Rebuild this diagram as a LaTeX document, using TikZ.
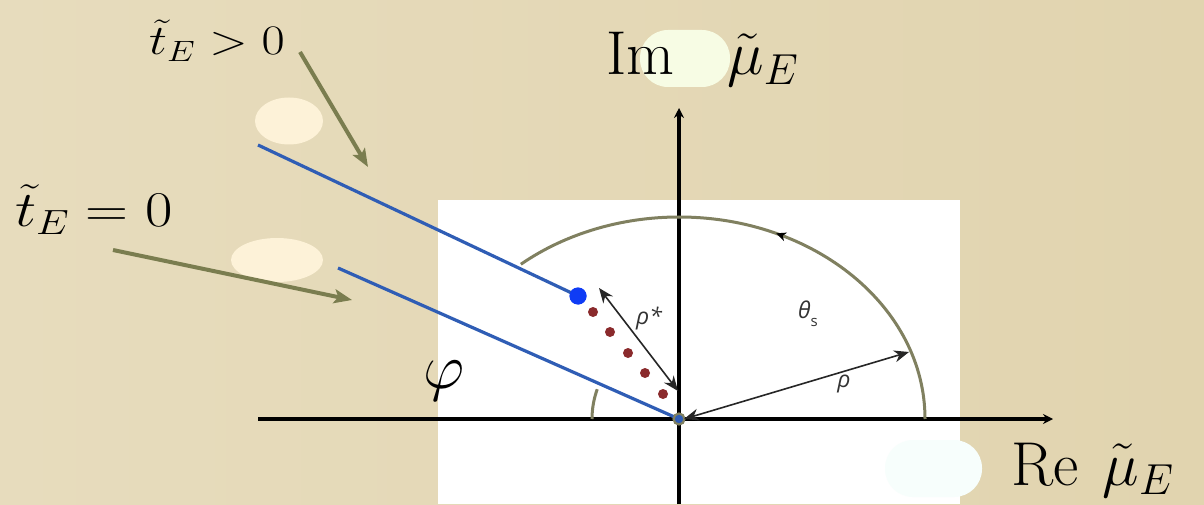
\RequirePackage{fix-cm}
\documentclass[tikz,border=0pt]{standalone}
\usepackage{fontspec}
\newfontfamily\labelfont{Open Sans}
\usetikzlibrary{arrows.meta,decorations.markings}
\definecolor{beigeL}{HTML}{E7DCBD}
\definecolor{beigeR}{HTML}{E1D4AF}
\definecolor{olivearrow}{HTML}{7A7D4F}
\definecolor{arccol}{HTML}{808060}
\definecolor{bluel}{HTML}{2F5DB5}
\definecolor{dotblue}{HTML}{0F3CF5}
\definecolor{dotred}{HTML}{8A2A2C}
\definecolor{blobIm}{HTML}{F7FCE4}
\definecolor{blobRe}{HTML}{F7FEFC}
\definecolor{blobcream}{HTML}{FDF2D8}
\definecolor{labgray}{HTML}{333333}
\tikzset{
  axis/.style={line width=4pt,-{Stealth[length=10pt,width=10pt]}},
  arcline/.style={draw=arccol,line width=3pt},
  blueline/.style={draw=bluel,line width=3.2pt},
  oarrow/.style={draw=olivearrow,line width=4pt,-{Stealth[length=18pt,width=14pt,inset=4pt]}},
  dim/.style={draw=black!85,line width=1.6pt,{Stealth[length=15pt,width=12pt]}-{Stealth[length=15pt,width=12pt]}},
  reddot/.style={circle,fill=dotred,inner sep=0pt,minimum size=10pt},
  bigmath/.style={inner sep=0pt,font=\fontsize{62}{62}\selectfont},
  smalllab/.style={inner sep=0pt,text=labgray,font=\labelfont\itshape\fontsize{23}{23}\selectfont},
}
\begin{document}
\begin{tikzpicture}[x=1pt,y=1pt]
\useasboundingbox (0,0) rectangle (1204,504);
\shade[left color=beigeL,right color=beigeR] (0,0) rectangle (1204,504);
\fill[white] (438,0) rectangle (960,304);
% highlight blobs
\fill[blobIm,rounded corners=28pt] (640,417) rectangle (730,474);
\fill[blobRe,rounded corners=28pt] (885,7) rectangle (982,64);
\fill[blobcream] (289,383) ellipse[x radius=34,y radius=23.5];
\fill[blobcream] (277,244) ellipse[x radius=46,y radius=22];
% axes
\coordinate (O) at (679,85);
\coordinate (xs) at (258,85);
\coordinate (xe) at (1053,85);
\coordinate (ys) at (679,0);
\coordinate (ye) at (679,396);
\draw[axis] (xs) -- (xe);
\draw[axis] (ys) -- (ye);
% big arc
\draw[arcline,postaction={decorate},decoration={markings,mark=at position 0.48 with {\fill[black] (4pt,0) -- (-6pt,4.5pt) -- (-3pt,0) -- (-6pt,-4.5pt) -- cycle;}}]
  (925,85) arc[start angle=0,end angle=130,x radius=246,y radius=202];
% phi arc
\draw[arcline] (O) ++(180:87) arc[start angle=180,end angle=160,radius=87];
% blue lines
\node[circle,fill=dotblue,inner sep=0pt,minimum size=17pt] (bd) at (578,208) {};
\coordinate (u0) at (258,359);
\coordinate (l0) at (338,236);
\draw[blueline] (u0) -- (bd.center);
\node[circle,fill=dotblue,inner sep=0pt,minimum size=17pt] at (578,208) {};
\draw[blueline] (l0) -- (O);
% red dots
\node[reddot] (r1) at (593,192) {};
\node[reddot] (r2) at (610,172) {};
\node[reddot] (r3) at (628,151) {};
\node[reddot] (r4) at (645,131) {};
\node[reddot] (r5) at (663,110) {};
% origin
\node[circle,draw=arccol,line width=2.2pt,fill=bluel,inner sep=0pt,minimum size=11pt] (Od) at (O) {};
% rho* and rho arrows
\coordinate (ps1) at (599,216);
\coordinate (ps2) at (678,113);
\draw[dim] (ps1) -- (ps2);
\coordinate (r0) at (684,85);
\coordinate (rE) at (909,152);
\draw[dim] (r0) -- (rE);
\node[smalllab] (lrs) at (649,186) {ρ*};
\node[smalllab] (lr) at (844,120) {ρ};
\node[smalllab] (lth) at (808,190) {θ\raisebox{-8pt}{\fontsize{15}{15}\selectfont\upshape s}};
% phi label
\node[inner sep=0pt,font=\fontsize{64}{64}\selectfont] (phi) at (444,123) {$\varphi$};
% axis labels
\node[bigmath,anchor=base west] (im) at (606,429) {$\mathrm{Im}\hspace{53pt}\tilde\mu_E$};
\node[bigmath,anchor=base west] (re) at (1011,19) {$\mathrm{Re}\hspace{24pt}\tilde\mu_E$};
% t labels and arrows
\node[inner sep=0pt,anchor=base west,font=\fontsize{42}{42}\selectfont] (tg) at (149,449) {\scalebox{1.2}[1]{$\tilde t_E>0$}};
\node[inner sep=0pt,anchor=base west,font=\fontsize{50}{50}\selectfont] (tz) at (15,277) {\scalebox{1.19}[1]{$\tilde t_E=0$}};
\coordinate (a1s) at (300,452);
\coordinate (a1e) at (368,337);
\coordinate (a2s) at (113,254);
\coordinate (a2e) at (352,204);
\draw[oarrow] (a1s) -- (a1e);
\draw[oarrow] (a2s) -- (a2e);
\end{tikzpicture}
\end{document}
